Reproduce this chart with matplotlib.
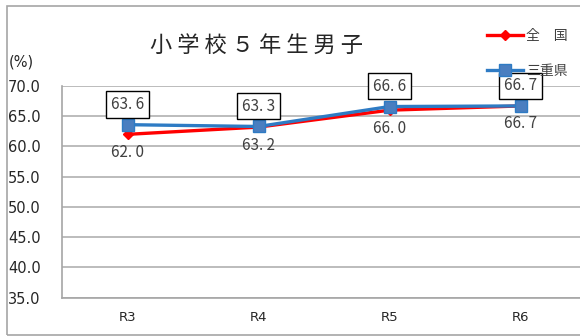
import matplotlib
matplotlib.use("Agg")
import matplotlib.pyplot as plt
from matplotlib.patches import Rectangle
from matplotlib.lines import Line2D

plt.rcParams['font.family'] = ['Noto Sans CJK JP', 'DejaVu Sans']

categories = ["R3", "R4", "R5", "R6"]
national = [62.0, 63.2, 66.0, 66.7]
mie = [63.6, 63.3, 66.6, 66.7]
yticks = [35.0, 40.0, 45.0, 50.0, 55.0, 60.0, 65.0, 70.0]
title = "小 学 校 ５ 年 生 男 子"
series_names = ["全　国", "三重県"]

W, H = 580, 336
fig = plt.figure(figsize=(W / 100, H / 100), dpi=100)
fig.patch.set_facecolor("white")

# outer frame
fig.patches.append(Rectangle((7 / W, 1 - 335 / H), 590 / W, 329 / H,
                             transform=fig.transFigure, fill=False,
                             edgecolor="#A6A6A6", linewidth=1.2))

ax = fig.add_axes([62 / W, 1 - 297.5 / H, 524 / W, 211.5 / H])
x = list(range(len(categories)))

red = "#FF0000"
blue_line = "#2E7BC4"
blue_face = "#4A7EC0"

ax.plot(x, national, color=red, linewidth=2.4, marker="D", markersize=5,
        markerfacecolor=red, markeredgecolor=red, zorder=3)
ax.plot(x, mie, color=blue_line, linewidth=2.4, marker="s", markersize=8,
        markerfacecolor=blue_face, markeredgecolor=blue_line, zorder=4)

def fmt(v):
    return f"{v:.1f}".replace(".", ". ")

for xi, v in zip(x, national):
    ax.annotate(fmt(v), (xi, v), xytext=(0, -13), textcoords="offset points",
                ha="center", va="center", fontsize=11, color="#404040", zorder=5)
for xi, v in zip(x, mie):
    ax.annotate(fmt(v), (xi, v), xytext=(0, 14.5), textcoords="offset points",
                ha="center", va="center", fontsize=11, color="#404040", zorder=5,
                bbox=dict(boxstyle="square,pad=0.3", facecolor="white",
                          edgecolor="black", linewidth=1.0))

ax.set_xlim(-0.5, 3.5)
ax.set_ylim(35, 70)
ax.set_yticks(yticks)
ax.set_yticklabels([f"{t:.1f}" for t in yticks], ha="left",
                   fontfamily="DejaVu Sans", fontsize=10.5, color="#262626")
ax.tick_params(axis="y", length=0, pad=39)
ax.set_xticks(x)
ax.set_xticklabels(categories, fontfamily="DejaVu Sans", fontsize=9.5, color="#262626")
ax.tick_params(axis="x", length=0, pad=10)
ax.grid(axis="y", color="#B0B0B0", linewidth=1.2)
ax.set_axisbelow(True)
for s in ["top", "right"]:
    ax.spines[s].set_visible(False)
ax.spines["left"].set_color("#A6A6A6")
ax.spines["left"].set_linewidth(1.2)
ax.spines["bottom"].set_color("#A6A6A6")
ax.spines["bottom"].set_linewidth(1.2)

fig.text(9 / W, 1 - 62 / H, "(%)", fontsize=10.5, fontfamily="DejaVu Sans",
         color="#262626", ha="left", va="center")
fig.text(257 / W, 1 - 45 / H, title, fontsize=16, color="#262626",
         ha="center", va="center")

handles = [
    Line2D([], [], color=red, linewidth=2.4, marker="D", markersize=5,
           markerfacecolor=red, markeredgecolor=red),
    Line2D([], [], color=blue_line, linewidth=2.4, marker="s", markersize=8,
           markerfacecolor=blue_face, markeredgecolor=blue_line),
]
fig.legend(handles, series_names, loc="upper left",
           bbox_to_anchor=(480 / W, 1 - 22 / H), frameon=False,
           fontsize=10, handlelength=2.6, handletextpad=0.2,
           labelspacing=1.5, borderpad=0, labelcolor="#404040")

fig.savefig("out.png", dpi=100)
